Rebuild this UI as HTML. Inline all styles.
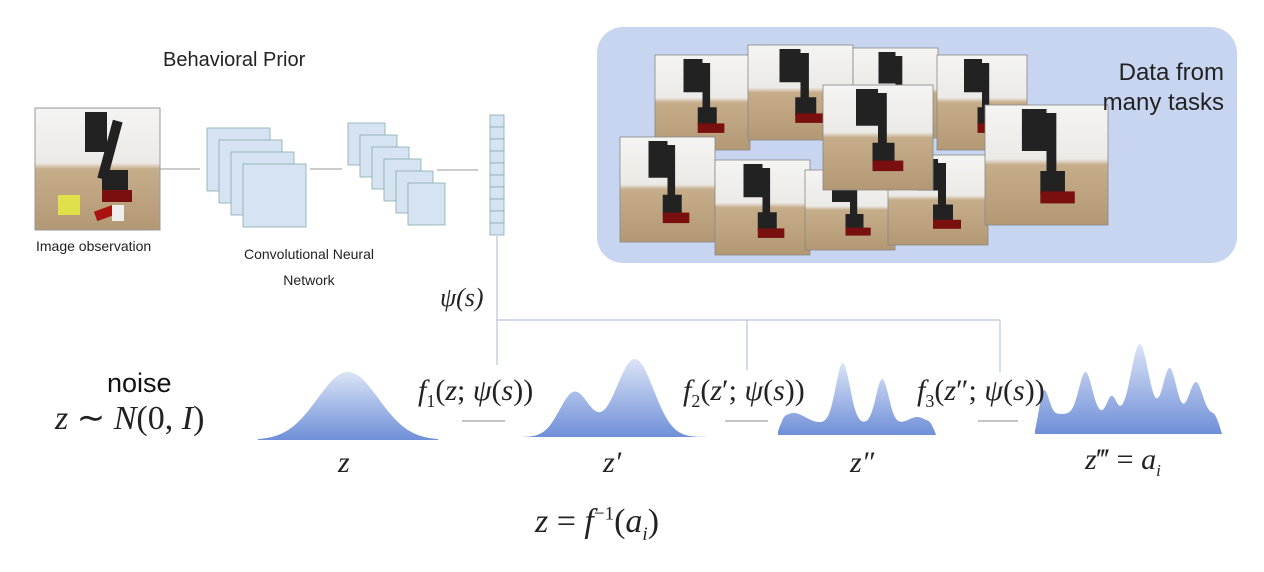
<!DOCTYPE html>
<html><head><meta charset="utf-8">
<style>
body{margin:0;background:#fff;width:1264px;height:572px;overflow:hidden;position:relative;font-family:"Liberation Sans",sans-serif}
.t{position:absolute;white-space:nowrap;color:#222}
.m{font-family:"Liberation Serif",serif;font-style:italic;color:#222}
</style></head><body>
<svg width="1264" height="572" style="position:absolute;left:0;top:0">
<defs>
<linearGradient id="dg" x1="0" y1="0" x2="0" y2="1"><stop offset="0" stop-color="#dbe4f6"/><stop offset="1" stop-color="#6f8fd8"/></linearGradient>
<linearGradient id="ph" x1="0" y1="0" x2="0" y2="1"><stop offset="0" stop-color="#f4f4f2"/><stop offset="0.45" stop-color="#eceae6"/><stop offset="0.5" stop-color="#c6ad8a"/><stop offset="1" stop-color="#b39874"/></linearGradient>
</defs>
<rect x="597" y="27" width="640" height="236" rx="26" fill="#c8d5f0"/>
<g id="photos"></g>
<g id="obs">
<rect x="35" y="108" width="125" height="122" fill="url(#ph)" stroke="#999"/>
<rect x="85" y="112" width="22" height="40" fill="#222"/><rect x="105" y="120" width="10" height="60" fill="#222" transform="rotate(15 110 150)"/>
<rect x="102" y="170" width="26" height="22" fill="#222"/><rect x="102" y="190" width="30" height="12" fill="#7a0f0f"/>
<rect x="58" y="195" width="22" height="20" fill="#dfe04a"/><rect x="95" y="208" width="20" height="10" fill="#a11" transform="rotate(-20 105 213)"/><rect x="112" y="205" width="12" height="16" fill="#eee"/>
</g>
<line x1="160" y1="169" x2="200" y2="169" stroke="#999"/>
<line x1="310" y1="169" x2="342" y2="169" stroke="#999"/>
<line x1="437" y1="170" x2="478" y2="170" stroke="#999"/>
<g id="cnn1"></g>
<g id="cnn2"></g>
<g id="vec"></g>
<g stroke="#b8c4dc" stroke-width="1.2" fill="none">
<line x1="497" y1="236" x2="497" y2="365"/><line x1="497" y1="320" x2="1000" y2="320"/>
<line x1="747" y1="320" x2="747" y2="370"/><line x1="1000" y1="320" x2="1000" y2="372"/>
</g>
<g stroke="#888" stroke-width="1">
<line x1="462" y1="421" x2="505" y2="421"/><line x1="725" y1="421" x2="768" y2="421"/><line x1="978" y1="421" x2="1018" y2="421"/>
</g>
<g id="dists"></g>
</svg>
<div class="t" style="left:163px;top:49px;font-size:20px">Behavioral Prior</div>
<div class="t" style="left:36px;top:238px;font-size:14px">Image observation</div>
<div class="t" style="left:244px;top:241px;font-size:14px;text-align:center;line-height:26px">Convolutional Neural<br>Network</div>
<div class="t m" style="left:440px;top:283px;font-size:26px">ψ(s)</div>
<div class="t" style="right:40px;top:58px;font-size:24px;text-align:right;line-height:30px">Data from<br>many tasks</div>
<div class="t" style="left:107px;top:368px;font-size:27px;color:#111">noise</div>
<div class="t m" style="left:55px;top:398px;font-size:34px;font-style:normal"><i>z</i> ∼ <i>N</i>(0, <i>I</i>)</div>
<div class="t m" style="left:418px;top:374px;font-size:30px;font-style:normal"><i>f</i><sub style="font-size:18px">1</sub>(<i>z</i>; <i>ψ</i>(<i>s</i>))</div>
<div class="t m" style="left:683px;top:374px;font-size:30px;font-style:normal"><i>f</i><sub style="font-size:18px">2</sub>(<i>z</i>′; <i>ψ</i>(<i>s</i>))</div>
<div class="t m" style="left:917px;top:374px;font-size:30px;font-style:normal"><i>f</i><sub style="font-size:18px">3</sub>(<i>z</i>″; <i>ψ</i>(<i>s</i>))</div>
<div class="t m" style="left:338px;top:446px;font-size:30px">z</div>
<div class="t m" style="left:603px;top:446px;font-size:30px">z′</div>
<div class="t m" style="left:850px;top:446px;font-size:30px">z″</div>
<div class="t m" style="left:1085px;top:443px;font-size:30px;font-style:normal"><i>z</i>‴ = <i>a<sub style="font-size:17px">i</sub></i></div>
<div class="t m" style="left:535px;top:503px;font-size:34px;font-style:normal"><i>z</i> = <i>f</i><sup style="font-size:19px">−1</sup>(<i>a<sub style="font-size:19px">i</sub></i>)</div>
<script>
const NS="http://www.w3.org/2000/svg";
function mk(tag,attrs,parent){const e=document.createElementNS(NS,tag);for(const k in attrs)e.setAttribute(k,attrs[k]);parent.appendChild(e);return e;}
const c1=document.getElementById('cnn1');
for(let i=0;i<4;i++){const r=mk('rect',{x:207+i*12,y:128+i*12,width:63,height:63,fill:'#d5e3f2',stroke:'#8aa',"stroke-width":0.8},c1);

}
const c2=document.getElementById('cnn2');
for(let i=0;i<6;i++){const r=mk('rect',{x:348+i*12,y:123+i*12,width:37,height:42,fill:'#d5e3f2',stroke:'#8aa',"stroke-width":0.8},c2);

}
const vg=document.getElementById('vec');
for(let i=0;i<10;i++){const r=mk('rect',{x:490,y:115+i*12,width:14,height:12,fill:'#d5e3f2',stroke:'#8aa',"stroke-width":0.8},vg);

}
const photoX=[655,748,853,937,620,715,805,888,985,823];
const photoY=[55,45,48,55,137,160,170,155,105,85];
const photoW=[95,105,85,90,95,95,90,100,123,110];
const photoH=[95,95,90,95,105,95,80,90,120,105];
const pg=document.getElementById('photos');
for(let i=0;i<photoX.length;i++){const g=mk('g',{},pg);


const x=photoX[i],y=photoY[i],w=photoW[i],h=photoH[i];
mk('rect',{x:x,y:y,width:w,height:h,fill:'url(#ph)',stroke:'#888',"stroke-width":0.8},g);
mk('rect',{x:x+w*0.3,y:y+4,width:w*0.2,height:h*0.35,fill:'#222'},g);
mk('rect',{x:x+w*0.5,y:y+8,width:w*0.08,height:h*0.5,fill:'#222'},g);
mk('rect',{x:x+w*0.45,y:y+h*0.55,width:w*0.2,height:h*0.2,fill:'#222'},g);
mk('rect',{x:x+w*0.45,y:y+h*0.72,width:w*0.28,height:h*0.1,fill:'#7a0f0f'},g);}
// distributions: gaussian components [center(0-1), height(px), width(0-1)]
const distX=[258,522,778,1035];
const distW=[180,188,158,187];
const distBase=[440,437,435,434];
const distPlateau=[0,0,12,20];
const distCenters=[[0.5],[0.28,0.6],[0.1,0.41,0.66,0.88],[0.05,0.27,0.41,0.56,0.72,0.86]];
const distHeights=[[68],[45,78],[10,60,44,6],[24,42,18,70,46,32]];
const distWidths=[[0.17],[0.08,0.1],[0.07,0.045,0.04,0.05],[0.025,0.035,0.025,0.045,0.035,0.035]];
const dg=document.getElementById('dists');
for(let d=0;d<distX.length;d++){
 let p=`M${distX[d]},${distBase[d]}`;
 for(let s=0;s<=200;s++){const u=s/200;let h=0;
  distCenters[d].forEach((c,k)=>{h+=distHeights[d][k]*Math.exp(-Math.pow((u-c)/distWidths[d][k],2)/2);});
  const edge=Math.min(1,Math.min(u,1-u)/0.05);
  h+=distPlateau[d]*Math.sin(edge*Math.PI/2);
  p+=` L${(distX[d]+u*distW[d]).toFixed(1)},${(distBase[d]-h).toFixed(1)}`;}
 p+=` L${distX[d]+distW[d]},${distBase[d]} Z`;
 const e=mk('path',{d:p,fill:'url(#dg)'},dg);
 
 }
</script>
</body></html>
